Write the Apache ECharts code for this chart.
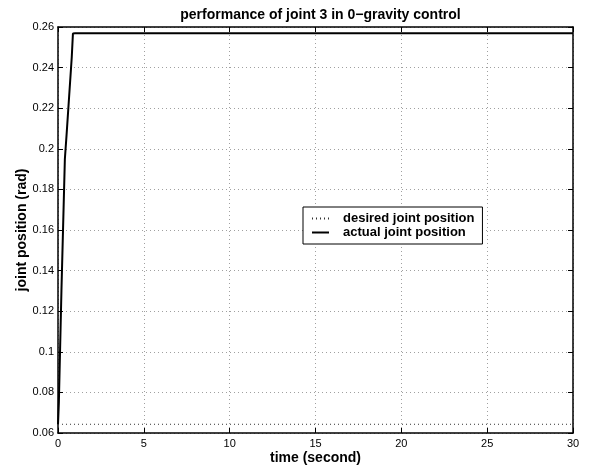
<!DOCTYPE html>
<html>
<head>
<meta charset="utf-8">
<script src="https://cdn.jsdelivr.net/npm/echarts@6/dist/echarts.min.js"></script>
<style>html,body{margin:0;padding:0;background:#fff}#c{width:594px;height:466px}</style>
</head>
<body>
<div id="c"></div>
<script>
var titleText = 'performance of joint 3 in 0\u2212gravity control';
var xLabel = 'time (second)';
var yLabel = 'joint position (rad)';
var seriesNames = ['desired joint position', 'actual joint position'];
var desiredT = [0, 30];
var desiredV = [0.0643, 0.0643];
var actualT = [0, 0.05, 0.2, 0.4, 0.5, 0.65, 0.8, 0.87, 1.0, 30];
var actualV = [0.0643, 0.075, 0.13, 0.195, 0.207, 0.226, 0.245, 0.2568, 0.2569, 0.2569];

function pairs(a, b) { return a.map(function (v, i) { return [v, b[i]]; }); }

var font = 'Liberation Sans, Arial, Helvetica, sans-serif';
var chart = echarts.init(document.getElementById('c'), null, { renderer: 'canvas' });
var axisLine = { show: true, onZero: false, lineStyle: { color: '#000', width: 1.5 } };
var tick = { show: true, inside: true, length: 5, lineStyle: { color: '#000', width: 1 } };
chart.setOption({
  animation: false,
  backgroundColor: '#fff',
  title: {
    text: titleText, left: 315.5, top: 3, textAlign: 'center',
    textStyle: { fontFamily: font, fontWeight: 'bold', fontSize: 14, color: '#000' }
  },
  grid: { left: 58, right: 21, top: 27, bottom: 33, containLabel: false, outerBoundsMode: 'none' },
  legend: {
    orient: 'vertical', left: 303, top: 207,
    data: seriesNames,
    backgroundColor: '#fff', borderColor: '#000', borderWidth: 1,
    padding: [5, 8, 5, 8], itemGap: 1, itemWidth: 17, itemHeight: 13,
    itemStyle: { opacity: 0 },
    textStyle: { fontFamily: font, fontWeight: 'bold', fontSize: 13, color: '#000', padding: [0, 0, 0, 9] }
  },
  xAxis: [{
    type: 'value', min: 0, max: 30, interval: 5, position: 'bottom',
    name: xLabel, nameLocation: 'middle', nameGap: 18, nameMoveOverlap: false,
    nameTextStyle: { fontFamily: font, fontWeight: 'bold', fontSize: 14, color: '#000' },
    axisLine: axisLine, axisTick: tick,
    axisLabel: { fontFamily: font, fontSize: 11, color: '#000', margin: 5 },
    splitLine: { show: true, lineStyle: { color: '#a0a0a0', width: 1, type: [1, 3] } }
  }, {
    type: 'value', min: 0, max: 30, interval: 5, position: 'top',
    axisLine: axisLine, axisTick: tick, axisLabel: { show: false }, splitLine: { show: false }
  }],
  yAxis: [{
    type: 'value', min: 0.06, max: 0.26, interval: 0.02, position: 'left',
    name: yLabel, nameLocation: 'middle', nameGap: 29, nameMoveOverlap: false,
    nameTextStyle: { fontFamily: font, fontWeight: 'bold', fontSize: 14, color: '#000' },
    axisLine: axisLine, axisTick: tick,
    axisLabel: { fontFamily: font, fontSize: 11, color: '#000', margin: 4 },
    splitLine: { show: true, lineStyle: { color: '#a0a0a0', width: 1, type: [1, 3] } }
  }, {
    type: 'value', min: 0.06, max: 0.26, interval: 0.02, position: 'right',
    axisLine: axisLine, axisTick: tick, axisLabel: { show: false }, splitLine: { show: false }
  }],
  series: [{
    name: seriesNames[0], type: 'line', data: pairs(desiredT, desiredV),
    symbol: 'none', showSymbol: false,
    lineStyle: { color: '#333', width: 1, type: [1, 3] },
    itemStyle: { color: '#333' }
  }, {
    name: seriesNames[1], type: 'line', data: pairs(actualT, actualV),
    symbol: 'none', showSymbol: false,
    lineStyle: { color: '#000', width: 2 },
    itemStyle: { color: '#000' }
  }]
});
</script>
</body>
</html>
